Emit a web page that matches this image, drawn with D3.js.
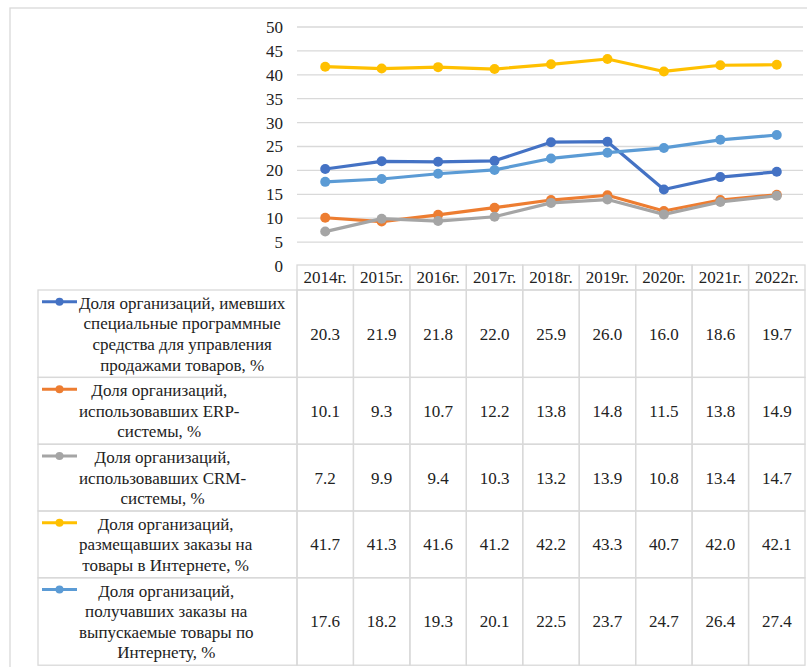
<!DOCTYPE html>
<html>
<head>
<meta charset="utf-8">
<script src="https://cdn.jsdelivr.net/npm/d3@7"></script>
<style>
  body { margin: 0; background: #fff; }
  svg text { font-family: 'Liberation Serif', 'Times New Roman', Times, serif; fill: #222; }
</style>
</head>
<body>
<div id="chart"></div>
<script>
(function(){

var years = ["2014г.", "2015г.", "2016г.", "2017г.", "2018г.", "2019г.", "2020г.", "2021г.", "2022г."];

var salesSoft = [20.3, 21.9, 21.8, 22.0, 25.9, 26.0, 16.0, 18.6, 19.7];
var erp       = [10.1, 9.3, 10.7, 12.2, 13.8, 14.8, 11.5, 13.8, 14.9];
var crm       = [7.2, 9.9, 9.4, 10.3, 13.2, 13.9, 10.8, 13.4, 14.7];
var placed    = [41.7, 41.3, 41.6, 41.2, 42.2, 43.3, 40.7, 42.0, 42.1];
var received  = [17.6, 18.2, 19.3, 20.1, 22.5, 23.7, 24.7, 26.4, 27.4];

var yTicks = [0, 5, 10, 15, 20, 25, 30, 35, 40, 45, 50];

var series = [
  {values: salesSoft, color: "#4472C4",
   label: ["Доля организаций, имевших", "специальные программные", "средства для управления", "продажами товаров, %"]},
  {values: erp, color: "#ED7D31",
   label: ["Доля организаций,", "использовавших ERP-", "системы, %"]},
  {values: crm, color: "#A5A5A5",
   label: ["Доля организаций,", "использовавших CRM-", "системы, %"]},
  {values: placed, color: "#FFC000",
   label: ["Доля организаций,", "размещавших заказы на", "товары в Интернете, %"]},
  {values: received, color: "#5B9BD5",
   label: ["Доля организаций,", "получавших заказы на", "выпускаемые товары по", "Интернету, %"]}
];

var width = 807, height = 667;
var plotLeft = 297, plotRight = 805, plotTop = 27, plotBottom = 266;
var tableLeft = 38, headerH = 25, lineH = 20.6, fontSize = 17;
var gridColor = "#d9d9d9";
var serif = "'Liberation Serif', 'Times New Roman', Times, serif";

var svg = d3.select("#chart").append("svg")
    .attr("width", width)
    .attr("height", height)
    .style("font-family", serif);

// outer chart border
svg.append("rect")
    .attr("x", 10).attr("y", 8)
    .attr("width", width + 20).attr("height", height + 20)
    .attr("fill", "none")
    .attr("stroke", gridColor)
    .attr("stroke-width", 1.3);

var x = d3.scaleBand().domain(years).range([plotLeft, plotRight]);
var y = d3.scaleLinear().domain([0, 50]).range([plotBottom, plotTop]);

// gridlines
svg.append("g").selectAll("line")
    .data(yTicks.filter(function(d) { return d > 0; }))
  .enter().append("line")
    .attr("x1", plotLeft).attr("x2", plotRight - 2)
    .attr("y1", function(d) { return y(d); })
    .attr("y2", function(d) { return y(d); })
    .attr("stroke", gridColor)
    .attr("stroke-width", 1.3);

// y axis labels
var yAxis = d3.axisLeft(y).tickValues(yTicks).tickSize(0).tickPadding(14);
var yg = svg.append("g")
    .attr("transform", "translate(" + plotLeft + ",0)")
    .call(yAxis);
yg.attr("font-family", null);
yg.select(".domain").remove();
yg.selectAll("text")
    .style("font-family", serif)
    .attr("font-size", fontSize)
    .attr("fill", "#222");

// lines + markers
var line = d3.line()
    .x(function(d, i) { return x(years[i]) + x.bandwidth() / 2; })
    .y(function(d) { return y(d); });

series.forEach(function(s) {
  svg.append("path")
      .attr("d", line(s.values))
      .attr("fill", "none")
      .attr("stroke", s.color)
      .attr("stroke-width", 3.2)
      .attr("stroke-linejoin", "round");
  svg.append("g").selectAll("circle")
      .data(s.values)
    .enter().append("circle")
      .attr("cx", function(d, i) { return x(years[i]) + x.bandwidth() / 2; })
      .attr("cy", function(d) { return y(d); })
      .attr("r", 5)
      .attr("fill", s.color);
});

// data table
var tbl = svg.append("g");
var headerTop = plotBottom - 1;

// header cells
years.forEach(function(yr) {
  tbl.append("rect")
      .attr("x", x(yr)).attr("y", headerTop)
      .attr("width", x.bandwidth()).attr("height", headerH)
      .attr("fill", "none").attr("stroke", gridColor).attr("stroke-width", 1.3);
  tbl.append("text")
      .attr("x", x(yr) + x.bandwidth() / 2)
      .attr("y", headerTop + headerH / 2)
      .attr("dy", "0.35em")
      .attr("text-anchor", "middle")
      .attr("font-size", fontSize)
      .style("font-family", serif)
      .text(yr);
});

var rowTop = headerTop + headerH;
series.forEach(function(s) {
  var rowH = s.label.length * lineH + 5;

  // legend cell
  tbl.append("rect")
      .attr("x", tableLeft).attr("y", rowTop)
      .attr("width", plotLeft - tableLeft).attr("height", rowH)
      .attr("fill", "none").attr("stroke", gridColor).attr("stroke-width", 1.3);

  var firstY = rowTop + rowH / 2 - (s.label.length - 1) * lineH / 2;

  // legend key
  tbl.append("line")
      .attr("x1", 42).attr("x2", 77)
      .attr("y1", firstY - 1).attr("y2", firstY - 1)
      .attr("stroke", s.color).attr("stroke-width", 3);
  tbl.append("circle")
      .attr("cx", 59.5).attr("cy", firstY - 1).attr("r", 4)
      .attr("fill", s.color);

  // label lines, centered in a block that starts after the key
  var texts = tbl.append("g").selectAll("text")
      .data(s.label)
    .enter().append("text")
      .attr("y", function(d, i) { return firstY + i * lineH; })
      .attr("dy", "0.35em")
      .attr("text-anchor", "middle")
      .attr("font-size", fontSize)
      .style("font-family", serif)
      .text(function(d) { return d; });
  var maxW = d3.max(texts.nodes(), function(n) { return n.getComputedTextLength(); });
  texts.attr("x", 79 + maxW / 2);

  // value cells
  s.values.forEach(function(v, i) {
    tbl.append("rect")
        .attr("x", x(years[i])).attr("y", rowTop)
        .attr("width", x.bandwidth()).attr("height", rowH)
        .attr("fill", "none").attr("stroke", gridColor).attr("stroke-width", 1.3);
    tbl.append("text")
        .attr("x", x(years[i]) + x.bandwidth() / 2)
        .attr("y", rowTop + rowH / 2)
        .attr("dy", "0.35em")
        .attr("text-anchor", "middle")
        .attr("font-size", fontSize)
        .style("font-family", serif)
        .text(d3.format(".1f")(v));
  });

  rowTop += rowH;
});

})();
</script>
</body>
</html>
